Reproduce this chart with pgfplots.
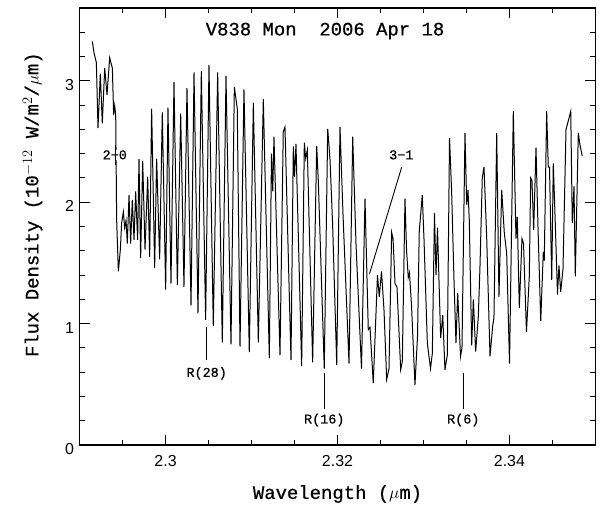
\documentclass[border=0pt]{standalone}
\usepackage{pgfplots}
\pgfplotsset{compat=1.18}
\usepackage{fontspec}
\setmainfont[FakeBold=0.5]{Liberation Mono}
\newfontfamily\labf[FakeBold=0.6]{Liberation Mono}
\newfontfamily\ticksf{Liberation Sans}
\newcommand{\bigf}{\labf\fontsize{19}{22}\selectfont}
\newcommand{\smallf}{\labf\fontsize{13.5}{16}\selectfont}
\begin{document}
\begin{tikzpicture}
\begin{axis}[name=ax,
  width=515.8bp, height=437bp, scale only axis,
  xmin=2.29, xmax=2.35, ymin=0, ymax=3.6,
  xtick={2.3,2.32,2.34},
  minor xtick={2.295,2.305,2.31,2.315,2.325,2.33,2.335,2.345},
  ytick={0,1,2,3},
  minor ytick={0.2,0.4,0.6,0.8,1.2,1.4,1.6,1.8,2.2,2.4,2.6,2.8,3.2,3.4},
  scaled x ticks=false, scaled y ticks=false,
  tick align=inside, major tick length=10bp, minor tick length=5bp,
  every tick/.style={line width=0.9bp, black},
  axis line style={line width=1.3bp},
  /pgf/number format/assume math mode=true,
  ticklabel style={font=\ticksf\fontsize{16}{18}\selectfont},
  xticklabel style={yshift=-7bp},
  yticklabel style={yshift=-4bp, xshift=-2bp},
  xlabel={Wavelength ($\mu$m)},
  ylabel={Flux Density (10$^{-12}$ W/m$^2$/$\mu$m)},
  label style={font=\bigf},
  xlabel style={at={(axis description cs:0.5,0)}, anchor=center, yshift=-49bp},
  ylabel style={at={(axis description cs:-0.0911,0.55)}, anchor=center},
  clip=false]
\addplot[black, line width=1bp] coordinates {
(2.29148,3.325) (2.29168,3.23) (2.29195,3.15) (2.29214,2.61) (2.29241,3.06)
(2.29264,2.65) (2.29292,3.105) (2.29319,2.885) (2.29350,3.19) (2.29381,3.105)
(2.29396,2.72) (2.29408,2.795) (2.29420,2.72) (2.29431,1.855) (2.29451,1.43)
(2.29474,1.61) (2.29489,1.83) (2.29509,1.92) (2.29524,1.79) (2.29540,1.85)
(2.29555,1.66) (2.29575,2.06) (2.29594,1.66) (2.29613,2.02) (2.29633,1.69)
(2.29652,2.09) (2.29675,1.69) (2.29691,2.355) (2.29710,1.54) (2.29734,2.34)
(2.29761,1.61) (2.29792,2.21) (2.29815,1.55) (2.29838,2.77) (2.29873,1.46)
(2.29896,2.36) (2.29931,1.53) (2.29962,2.74) (2.30001,1.28) (2.30028,2.78)
(2.30063,1.33) (2.30098,2.99) (2.30137,1.32) (2.30176,2.73) (2.30214,1.30)
(2.30249,2.94) (2.30296,1.15) (2.30331,3.07) (2.30377,1.085) (2.30416,3.08)
(2.30466,1.03)
(2.30505,3.13) (2.30555,0.98) (2.30606,3.07) (2.30660,0.845) (2.30703,3.04)
(2.30761,0.83) (2.30800,2.95) (2.30834,2.77) (2.30866,0.81) (2.30912,2.93)
(2.30974,0.765) (2.31021,2.82) (2.31079,0.845) (2.31137,2.85) (2.31207,0.715)
(2.31232,2.40) (2.31247,2.09) (2.31261,2.54) (2.31331,0.74) (2.31369,2.58)
(2.31389,2.62) (2.31459,0.70) (2.31486,2.46) (2.31500,2.21) (2.31517,2.48)
(2.31583,0.65) (2.31614,2.49) (2.31630,2.36) (2.31649,2.43) (2.31711,0.68)
(2.31758,2.465) (2.31777,2.17) (2.31846,0.63) (2.31886,2.605) (2.31913,2.35)
(2.31944,1.80) (2.31991,0.66) (2.32029,2.62) (2.32064,1.90) (2.32134,0.67)
(2.32177,2.54) (2.32215,1.66) (2.32279,0.63) (2.32320,2.03) (2.32358,0.95)
(2.32378,0.97) (2.32416,0.51) (2.32465,1.40) (2.32486,1.22) (2.32512,1.43)
(2.32541,1.11) (2.32572,0.54) (2.32599,0.63) (2.32630,1.75) (2.32646,1.70)
(2.32669,1.33) (2.32692,1.30) (2.32735,0.62) (2.32754,0.69) (2.32785,2.03)
(2.32803,1.61) (2.32823,1.38) (2.32837,1.42) (2.32861,1.15) (2.32901,0.495)
(2.32931,0.90) (2.32951,1.76) (2.32986,2.06) (2.33006,1.70) (2.33045,0.84)
(2.33082,0.63) (2.33103,0.755) (2.33128,1.91) (2.33146,1.40) (2.33163,1.79)
(2.33200,0.88) (2.33224,1.07) (2.33250,0.62) (2.33277,0.74) (2.33303,2.53)
(2.33328,2.08) (2.33355,1.36) (2.33378,0.84) (2.33398,1.25) (2.33431,0.73)
(2.33448,0.80) (2.33483,2.57) (2.33503,1.98) (2.33518,2.10) (2.33533,1.85)
(2.33561,0.82) (2.33580,1.20) (2.33607,0.77) (2.33638,1.06) (2.33657,1.46)
(2.33684,2.20) (2.33704,2.29) (2.33735,1.72) (2.33774,0.73) (2.33805,0.98)
(2.33820,1.05) (2.33852,2.57) (2.33878,1.22) (2.33910,2.10) (2.33940,1.75)
(2.33968,1.58) (2.34001,0.67) (2.34045,2.75) (2.34076,1.70) (2.34091,1.88)
(2.34115,1.13) (2.34146,1.70) (2.34164,1.66) (2.34198,0.93) (2.34231,1.39)
(2.34247,2.20) (2.34262,2.18) (2.34282,1.77) (2.34309,2.45) (2.34332,1.80)
(2.34364,1.02) (2.34394,1.59) (2.34405,1.52) (2.34433,2.75) (2.34452,2.29)
(2.34466,2.29) (2.34492,1.36) (2.34510,2.32) (2.34530,1.90) (2.34559,1.24)
(2.34576,1.48) (2.34596,1.26) (2.34623,1.45) (2.34658,2.60) (2.34681,2.66)
(2.34713,2.75) (2.34731,1.83) (2.34751,2.13) (2.34766,1.39) (2.34801,2.57)
(2.34821,2.47) (2.34847,2.38)
};
\node[font=\bigf] at (axis cs:2.31855,3.41) {V838~Mon~~2006~Apr~18};
\node[font=\smallf, fill=white, inner sep=0.5bp] at (axis cs:2.29409,2.39) {2−0};
\draw[black, line width=1bp] (axis cs:2.29420,2.47) -- (axis cs:2.29420,2.31);
\node[font=\smallf] at (axis cs:2.32742,2.39) {3−1};
\draw[black, line width=0.9bp] (axis cs:2.32747,2.29) -- (axis cs:2.32372,1.41);
\draw[black, line width=0.9bp] (axis cs:2.30478,0.975) -- (axis cs:2.30478,0.70);
\node[font=\smallf] at (axis cs:2.30478,0.59) {R(28)};
\draw[black, line width=0.9bp] (axis cs:2.31846,0.59) -- (axis cs:2.31846,0.30);
\node[font=\smallf] at (axis cs:2.31846,0.206) {R(16)};
\draw[black, line width=0.9bp] (axis cs:2.33463,0.596) -- (axis cs:2.33463,0.30);
\node[font=\smallf] at (axis cs:2.33463,0.206) {R(6)};
\end{axis}
\pgfresetboundingbox
\path[use as bounding box] ([shift={(-79.6bp,-61bp)}]ax.south west) rectangle ([shift={(4.6bp,8bp)}]ax.north east);
\end{tikzpicture}
\end{document}
